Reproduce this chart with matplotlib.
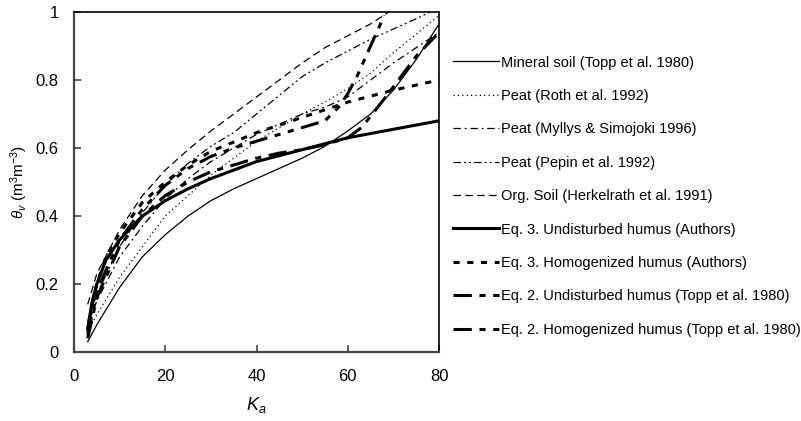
import matplotlib
matplotlib.use("Agg")
import matplotlib.pyplot as plt

plt.rcParams['font.family'] = ['Liberation Sans', 'DejaVu Sans']
plt.rcParams['mathtext.fontset'] = 'custom'
plt.rcParams['mathtext.rm'] = 'Liberation Sans'
plt.rcParams['mathtext.it'] = 'Liberation Sans:italic'

# values
k_mineral = [3, 5, 10, 15, 20, 25, 30, 35, 40, 45, 50, 55, 60, 65, 70, 75, 80]
th_mineral = [0.03, 0.08, 0.19, 0.28, 0.345, 0.40, 0.445, 0.48, 0.51, 0.54, 0.57, 0.605, 0.65, 0.70, 0.77, 0.86, 0.965]

k_roth = [3, 5, 10, 15, 20, 25, 30, 35, 40, 45, 50, 55, 60, 65, 70, 75, 80]
th_roth = [0.06, 0.11, 0.22, 0.31, 0.40, 0.46, 0.52, 0.57, 0.62, 0.66, 0.70, 0.735, 0.775, 0.82, 0.88, 0.935, 0.99]

k_myllys = [3, 5, 10, 15, 20, 25, 30, 35, 40, 45, 50, 55, 60, 65, 70, 75, 80]
th_myllys = [0.08, 0.15, 0.28, 0.37, 0.45, 0.51, 0.56, 0.60, 0.64, 0.67, 0.70, 0.72, 0.75, 0.80, 0.85, 0.895, 0.94]

k_pepin = [3, 5, 10, 15, 20, 25, 30, 35, 40, 45, 50, 55, 60, 65, 70, 75, 78]
th_pepin = [0.09, 0.17, 0.31, 0.41, 0.49, 0.555, 0.605, 0.645, 0.70, 0.755, 0.81, 0.85, 0.885, 0.92, 0.95, 0.98, 1.0]

k_herk = [3, 5, 10, 15, 20, 25, 30, 35, 40, 45, 50, 55, 60, 65, 69]
th_herk = [0.14, 0.23, 0.36, 0.46, 0.535, 0.595, 0.65, 0.70, 0.75, 0.80, 0.85, 0.895, 0.93, 0.965, 1.0]

k_eq3u = [3, 4, 5, 7, 10, 15, 20, 25, 30, 40, 50, 60, 70, 80]
th_eq3u = [0.07, 0.15, 0.20, 0.27, 0.33, 0.40, 0.445, 0.48, 0.51, 0.56, 0.595, 0.63, 0.655, 0.68]

k_eq3h = [3, 4, 5, 7, 10, 15, 20, 25, 30, 40, 50, 60, 70, 80]
th_eq3h = [0.06, 0.14, 0.20, 0.28, 0.35, 0.44, 0.50, 0.55, 0.59, 0.645, 0.69, 0.735, 0.77, 0.80]

k_eq2u = [3, 5, 10, 15, 20, 25, 30, 35, 40, 45, 50, 55, 60, 63, 66, 70, 75, 80]
th_eq2u = [0.04, 0.16, 0.31, 0.40, 0.46, 0.50, 0.53, 0.55, 0.57, 0.585, 0.595, 0.61, 0.63, 0.66, 0.71, 0.78, 0.87, 0.94]

k_eq2h = [3, 5, 10, 15, 20, 25, 30, 35, 40, 45, 50, 55, 58, 60, 62, 64, 66, 68]
th_eq2h = [0.05, 0.18, 0.33, 0.42, 0.49, 0.54, 0.575, 0.60, 0.62, 0.64, 0.66, 0.68, 0.72, 0.76, 0.81, 0.87, 0.93, 0.99]

labels = [
    'Mineral soil (Topp et al. 1980)',
    'Peat (Roth et al. 1992)',
    'Peat (Myllys & Simojoki 1996)',
    'Peat (Pepin et al. 1992)',
    'Org. Soil (Herkelrath et al. 1991)',
    'Eq. 3. Undisturbed humus (Authors)',
    'Eq. 3. Homogenized humus (Authors)',
    'Eq. 2. Undisturbed humus (Topp et al. 1980)',
    'Eq. 2. Homogenized humus (Topp et al. 1980)',
]

fig = plt.figure(figsize=(8.01, 4.21), dpi=100)
ax = fig.add_axes([0.0924, 0.164, 0.4557, 0.8075])

thin = 0.9
thick = 2.2
ax.plot(k_mineral, th_mineral, color='black', lw=thin, ls='-', label=labels[0])
ax.plot(k_roth, th_roth, color='black', lw=thin, ls=(0, (1, 2.5)), label=labels[1])
ax.plot(k_myllys, th_myllys, color='black', lw=thin, ls=(0, (6, 3, 1.5, 3)), label=labels[2])
ax.plot(k_pepin, th_pepin, color='black', lw=thin, ls=(0, (6, 2.5, 1.5, 2.5, 1.5, 2.5)), label=labels[3])
ax.plot(k_herk, th_herk, color='black', lw=thin, ls=(0, (6, 3.5)), label=labels[4])
ax.plot(k_eq3u, th_eq3u, color='black', lw=thick, ls='-', label=labels[5])
ax.plot(k_eq3h, th_eq3h, color='black', lw=thick, ls=(0, (2, 2.5)), label=labels[6])
ax.plot(k_eq2u, th_eq2u, color='black', lw=thick, ls=(0, (6, 2.5, 2, 2.5)), label=labels[7])
ax.plot(k_eq2h, th_eq2h, color='black', lw=thick, ls=(0, (6, 2.5, 2, 2.5, 2, 2.5)), label=labels[8])

ax.set_xlim(0, 80)
ax.set_ylim(0, 1)
ax.set_xticks([0, 20, 40, 60, 80])
ax.set_yticks([0, 0.2, 0.4, 0.6, 0.8, 1])
ax.set_yticklabels(['0', '0.2', '0.4', '0.6', '0.8', '1'])
ax.tick_params(axis='both', direction='in', length=5, width=1.2, labelsize=12, color='#444444')
ax.tick_params(axis='x', pad=12)
ax.tick_params(axis='y', pad=11)
for side in ['left', 'bottom']:
    ax.spines[side].set_color('#444444')
    ax.spines[side].set_linewidth(1.6)
for side in ['top', 'right']:
    ax.spines[side].set_color('black')
    ax.spines[side].set_linewidth(1.2)

ax.set_xlabel('$K_a$', fontsize=13, labelpad=8)
ax.set_ylabel(r'$\theta_v$ (m$^3$m$^{-3}$)', fontsize=11, labelpad=4)

fig.legend(loc='upper left', bbox_to_anchor=(0.566, 0.868), frameon=False,
           fontsize=10.5, handlelength=3.1, handletextpad=0.2, labelspacing=1.33,
           borderaxespad=0, borderpad=0)

fig.savefig('out.png', dpi=100)
